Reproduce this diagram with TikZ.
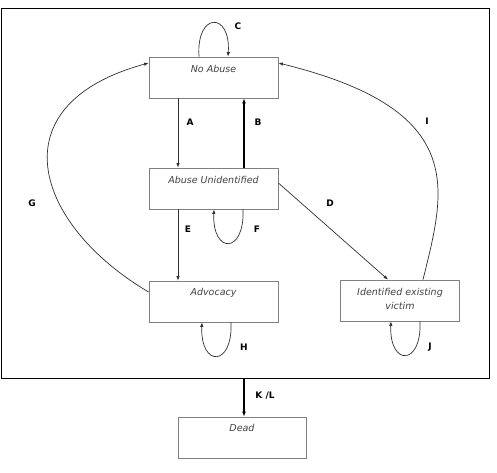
\documentclass[tikz,border=0pt]{standalone}
\usepackage{fontspec}
\setmainfont{DejaVu Sans}
\usetikzlibrary{arrows.meta,calc}
\definecolor{boxgray}{HTML}{808080}
\definecolor{txtgray}{HTML}{404040}
\definecolor{linegray}{HTML}{303030}
\begin{document}
\begin{tikzpicture}[x=1pt,y=-1pt,
 box/.style={draw=boxgray, line width=0.8pt, minimum width=129pt, minimum height=41pt, inner sep=0pt},
 txt/.style={text=txtgray, font=\itshape\fontsize{9.5}{13.5}\selectfont, inner sep=0pt, align=center},
 lab/.style={font=\bfseries\fontsize{9}{10}\selectfont, inner sep=0pt},
 arr/.style={draw=linegray, line width=0.7pt, -{Latex[length=4.5pt,width=3.5pt]}},
 thickarr/.style={draw=black, line width=1.6pt, -{Latex[length=5pt,width=4pt]}}]
\path[use as bounding box] (0,0) rectangle (497,472);
\node[draw, line width=1.2pt, minimum width=488pt, minimum height=370pt, inner sep=0pt, anchor=north west] (frame) at (1,8) {};
% boxes
\node[box] (na) at (213.5,77.5) {};
\node[box] (au) at (213.5,188.5) {};
\node[box] (adv) at (213.5,301.5) {};
\node[box, minimum width=119pt] (iev) at (399.5,300.5) {};
\node[box, minimum width=128pt] (dead) at (242,437.5) {};
% texts
\node[txt] (tna) at (213.5,69) {No Abuse};
\node[txt] (tau) at (213.5,180) {Abuse Unidentified};
\node[txt] (tadv) at (213.5,293) {Advocacy};
\node[txt] (tiev) at (400,299) {Identified existing\\victim};
\node[txt] (tdead) at (242,428) {Dead};
% connectors
\draw[arr] ([xshift=-35.5pt]na.south) -- ([xshift=-35.5pt]au.north);
\draw[thickarr] ([xshift=30.5pt]au.north) -- ([xshift=30.5pt]na.south);
\draw[arr] ([xshift=-35.5pt]au.south) -- ([xshift=-35.5pt]adv.north);
\draw[arr] ([yshift=5.5pt]au.east) -- ([xshift=-11.5pt]iev.north);
\draw[arr] ([xshift=-14.5pt]na.north) .. controls +(-3,-45) and +(3,-45) .. ([xshift=14.5pt]na.north);
\draw[arr] ([xshift=29.5pt]au.south) .. controls +(2,45) and +(-2,45) .. ([xshift=0.5pt]au.south);
\draw[arr] ([xshift=17.5pt]adv.south) .. controls +(2,45) and +(-2,45) .. ([xshift=-11.5pt]adv.south);
\draw[arr] ([xshift=20.5pt]iev.south) .. controls +(2,45) and +(-2,45) .. ([xshift=-8.5pt]iev.south);
\draw[arr] ([yshift=9.5pt]adv.west) .. controls (35,225) and (-5,105) .. ([yshift=14.5pt]na.west);
\draw[arr] ([xshift=23.5pt]iev.north) .. controls (445,190) and (470,110) .. ([yshift=14.5pt]na.east);
\draw[thickarr] ([xshift=2pt]dead.north |- frame.south) -- ([xshift=2pt]dead.north);
% labels
\node[lab] (lA) at (190,122) {A};
\node[lab] (lB) at (258,122) {B};
\node[lab] (lC) at (238,26) {C};
\node[lab] (lD) at (330,203) {D};
\node[lab] (lE) at (188,229) {E};
\node[lab] (lF) at (257,229) {F};
\node[lab] (lG) at (32,203) {G};
\node[lab] (lH) at (244,347) {H};
\node[lab] (lI) at (427,121) {I};
\node[lab] (lJ) at (430,347) {J};
\node[lab] (lKL) at (265,396) {K /L};
\end{tikzpicture}
\end{document}
